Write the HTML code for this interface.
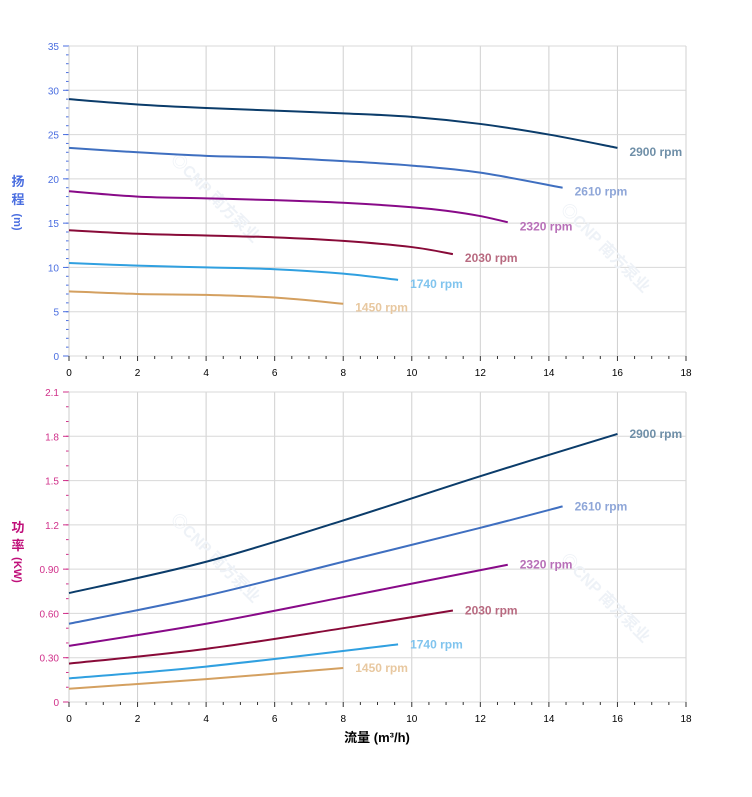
<!DOCTYPE html>
<html><head><meta charset="utf-8"><style>
html,body{margin:0;padding:0;background:#fff;}
svg{display:block;font-family:"Liberation Sans","Noto Sans CJK SC",sans-serif;}
</style></head><body>
<svg id="s" width="752" height="797" viewBox="0 0 752 797"></svg>
<script>
const S=document.getElementById('s');let h='';
const X=q=>69+617*q/18;
function axes(top,bot,ymax,step,labels,col,minor){
  for(let q=0;q<=18;q+=2){h+=`<line x1="${X(q)}" y1="${top}" x2="${X(q)}" y2="${bot}" stroke="#d0d0d0"/>`;}
  labels.forEach((l,i)=>{const y=bot-(bot-top)*i/(labels.length-1);
    h+=`<line x1="69" y1="${y}" x2="686" y2="${y}" stroke="#d8d8d8"/>`;
    h+=`<line x1="63" y1="${y}" x2="69" y2="${y}" stroke="${col}"/>`;
    h+=`<text x="59" y="${y+4}" font-size="10" fill="${col}" text-anchor="end">${l}</text>`;});
  for(let i=0;i<minor;i++){const y=bot-(bot-top)*i/minor;h+=`<line x1="66" y1="${y}" x2="69" y2="${y}" stroke="${col}"/>`;}
  h+=`<line x1="69" y1="${top}" x2="69" y2="${bot}" stroke="#ccc"/>`;
  for(let q=0;q<=18;q+=0.5){const x=X(q);h+=`<line x1="${x}" y1="${bot}" x2="${x}" y2="${bot+(q%2==0?5:3)}" stroke="#333"/>`;}
  for(let q=0;q<=18;q+=2)h+=`<text x="${X(q)}" y="${bot+20}" font-size="10" fill="#000" text-anchor="middle">${q}</text>`;
}
axes(46,356,35,5,['0','5','10','15','20','25','30','35'],'#4a6ee0',35);
axes(392,702,2.1,0.3,['0','0.30','0.60','0.90','1.2','1.5','1.8','2.1'],'#d0308a',21);
[[170,160],[170,520],[560,210],[560,560]].forEach(([x,y])=>h+=`<text x="${x}" y="${y}" transform="rotate(45 ${x} ${y})" font-size="16" font-weight="bold" fill="#eef2f7">◎CNP 南方泵业</text>`);
function curve(pts,Y,col){
  const P=pts.map(([q,v])=>[X(q),Y(v)]);let d=`M${P[0][0]},${P[0][1]}`;
  for(let i=0;i<P.length-1;i++){const p0=P[i-1]||P[i],p1=P[i],p2=P[i+1],p3=P[i+2]||p2;
    d+=` C${p1[0]+(p2[0]-p0[0])/6},${p1[1]+(p2[1]-p0[1])/6} ${p2[0]-(p3[0]-p1[0])/6},${p2[1]-(p3[1]-p1[1])/6} ${p2[0]},${p2[1]}`;}
  h+=`<path d="${d}" fill="none" stroke="${col}" stroke-width="2"/>`;
}
const YH=v=>356-310*v/35, YP=v=>702-310*v/2.1;
const C=[['2900','#0b3c6a','#6f8fa8',[[0,29],[2,28.4],[4,28],[6,27.7],[8,27.4],[10,27],[12,26.2],[14,25],[16,23.5]],[[0,.738],[4,.95],[8,1.23],[12,1.53],[16,1.816]]],
['2610','#3f6fc0','#8ea6d8',[[0,23.5],[2,23],[4,22.6],[6,22.4],[8,22],[10,21.5],[12,20.7],[14.4,19]],[[0,.53],[4,.72],[8,.95],[12,1.18],[14.4,1.325]]],
['2320','#880a88','#b870b8',[[0,18.6],[2,18],[4,17.8],[6,17.6],[8,17.3],[10,16.8],[11,16.4],[12,15.8],[12.8,15.1]],[[0,.38],[4,.53],[8,.71],[12.8,.93]]],
['2030','#880a38','#b86a80',[[0,14.2],[2,13.8],[4,13.6],[6,13.4],[8,13],[10,12.3],[11.2,11.5]],[[0,.26],[4,.36],[8,.5],[11.2,.62]]],
['1740','#30a0e0','#80c4ee',[[0,10.5],[2,10.2],[4,10],[6,9.8],[8,9.3],[9.6,8.6]],[[0,.16],[4,.24],[9.6,.39]]],
['1450','#d4a060','#e8c8a0',[[0,7.3],[2,7],[4,6.9],[6,6.6],[8,5.9]],[[0,.09],[4,.155],[8,.23]]]];
C.forEach(([n,c,lc,hp,pp])=>{curve(hp,YH,c);curve(pp,YP,c);
 const a=hp[hp.length-1],b=pp[pp.length-1];
 h+=`<text x="${X(a[0])+12}" y="${YH(a[1])+8}" font-size="12" font-weight="bold" fill="${lc}">${n} rpm</text>`;
 h+=`<text x="${X(b[0])+12}" y="${YP(b[1])+4}" font-size="12" font-weight="bold" fill="${lc}">${n} rpm</text>`;});
h+=`<text x="18" y="186" font-size="13" font-weight="bold" fill="#4a6ee0" text-anchor="middle">扬</text><text x="18" y="204" font-size="13" font-weight="bold" fill="#4a6ee0" text-anchor="middle">程</text><text x="18" y="226" font-size="11" font-weight="bold" fill="#4a6ee0" text-anchor="middle" transform="rotate(90 18 222)">(m)</text>`;
h+=`<text x="18" y="532" font-size="13" font-weight="bold" fill="#c0107a" text-anchor="middle">功</text><text x="18" y="550" font-size="13" font-weight="bold" fill="#c0107a" text-anchor="middle">率</text><text x="18" y="574" font-size="11" font-weight="bold" fill="#c0107a" text-anchor="middle" transform="rotate(90 18 570)">(KW)</text>`;
h+=`<text x="377" y="742" font-size="13" font-weight="bold" fill="#000" text-anchor="middle">流量 (m³/h)</text>`;
S.innerHTML=h;
</script>
</body></html>
